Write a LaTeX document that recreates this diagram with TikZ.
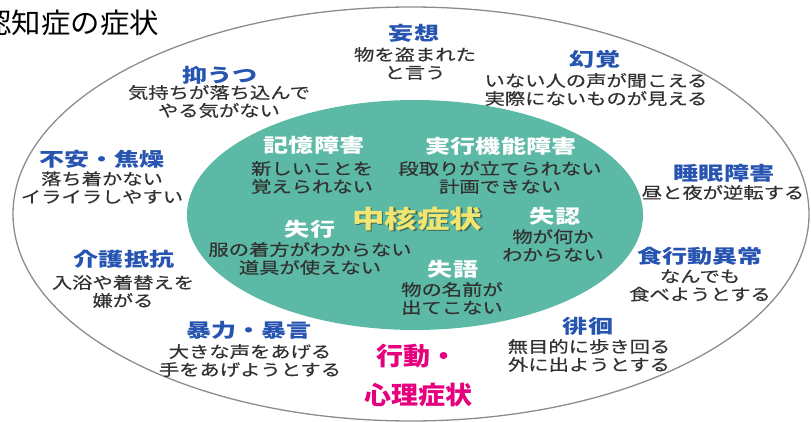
\documentclass[tikz,border=0pt]{standalone}
\usepackage{fontspec}
\newfontfamily\titelschrift[FakeStretch=1.05]{Noto Sans CJK JP}
\newfontfamily\kopfschrift[FakeStretch=1.32]{Noto Sans CJK JP}
\newfontfamily\zeilenschrift[FakeStretch=1.27,FakeBold=0.5]{Noto Sans CJK JP}
\newfontfamily\kernschrift[FakeStretch=1.3]{Noto Sans CJK JP}
\newfontfamily\pinkschrift[FakeStretch=1.08]{Noto Sans CJK JP}

\definecolor{kopfblau}{RGB}{38,84,176}
\definecolor{zeilengrau}{RGB}{50,50,50}
\definecolor{kerngruen}{RGB}{92,185,165}
\definecolor{kerngelb}{RGB}{242,230,112}
\definecolor{kernschatten}{RGB}{60,110,95}
\definecolor{bpsdpink}{RGB}{230,0,126}
\definecolor{randgrau}{RGB}{140,140,140}

\tikzset{
  aussenrand/.style={draw=randgrau, line width=1.3pt},
  titel/.style={inner sep=0pt, text=black, font=\titelschrift\fontsize{28}{30}\selectfont},
  kopf/.style={inner sep=0pt, yshift=-1.5pt, text=kopfblau, font=\kopfschrift\bfseries\fontsize{19}{22}\selectfont},
  zeilen/.style={inner sep=0pt, yshift=-1.5pt, align=center, text=zeilengrau, font=\zeilenschrift\fontsize{16}{18}\selectfont},
  kernkopf/.style={kopf, text=white},
  kernwort/.style={inner sep=0pt, text=kerngelb, font=\kernschrift\bfseries\fontsize{25}{28}\selectfont},
  pinkwort/.style={inner sep=0pt, text=bpsdpink, font=\pinkschrift\bfseries\fontsize{25}{28}\selectfont}
}

\begin{document}
\begin{tikzpicture}[x=1pt,y=-1pt]
    \useasboundingbox (0,0) rectangle (811,422);

    % Ellipsen
    \coordinate (M) at (411,214);
    \coordinate (K) at (415,215);
    \draw[aussenrand] (M) ellipse [x radius=398, y radius=207];
    \fill[kerngruen] (K) ellipse [x radius=228, y radius=115];

    % Titel
    \node[titel, anchor=east] (titel) at (159,23) {認知症の症状};

    % äußerer Ring
    \node[kopf] (wahn) at (414,32) {妄想};
    \node[zeilen] (wahntext) at (415,62) {物を盗まれた\\と言う};

    \node[kopf] (depr) at (220,74) {抑うつ};
    \node[zeilen] (deprtext) at (219,100) {気持ちが落ち込んで\\やる気がない};

    \node[kopf] (halluz) at (595,58) {幻覚};
    \node[zeilen] (halluztext) at (596,88) {いない人の声が聞こえる\\実際にないものが見える};

    \node[kopf] (angst) at (102,158) {不安・焦燥};
    \node[zeilen] (angsttext) at (102,186) {落ち着かない\\イライラしやすい};

    \node[kopf] (schlaf) at (724,172) {睡眠障害};
    \node[zeilen] (schlaftext) at (723,191) {昼と夜が逆転する};

    \node[kopf] (abwehr) at (124,258) {介護抵抗};
    \node[zeilen] (abwehrtext) at (123,290) {入浴や着替えを\\嫌がる};

    \node[kopf] (essen) at (700,255) {食行動異常};
    \node[zeilen] (essentext) at (700,284) {なんでも\\食べようとする};

    \node[kopf] (gewalt) at (249,329) {暴力・暴言};
    \node[zeilen] (gewalttext) at (250,359) {大きな声をあげる\\手をあげようとする};

    \node[kopf] (wandern) at (588,325) {徘徊};
    \node[zeilen] (wanderntext) at (589,354) {無目的に歩き回る\\外に出ようとする};

    % Kernsymptome
    \node[kernkopf] (gedaechtnis) at (314,144) {記憶障害};
    \node[zeilen] (gedaechtnistext) at (312,176) {新しいことを\\覚えられない};

    \node[kernkopf] (exekutiv) at (501,145) {実行機能障害};
    \node[zeilen] (exekutivtext) at (500,176) {段取りが立てられない\\計画できない};

    \node[kernwort, text=kernschatten] (kernS) at (418.5,220.5) {中核症状};
    \node[kernwort] (kern) at (417,219) {中核症状};

    \node[kernkopf] (apraxie) at (310,228) {失行};
    \node[zeilen] (apraxietext) at (310,257) {服の着方がわからない\\道具が使えない};

    \node[kernkopf] (agnosie) at (555,215) {失認};
    \node[zeilen] (agnosietext) at (553,244) {物が何か\\わからない};

    \node[kernkopf] (aphasie) at (453,268) {失語};
    \node[zeilen] (aphasietext) at (452,297) {物の名前が\\出てこない};

    % BPSD
    \node[pinkwort] (bpsd1) at (417,356) {行動・};
    \node[pinkwort] (bpsd2) at (418,395) {心理症状};
\end{tikzpicture}
\end{document}
